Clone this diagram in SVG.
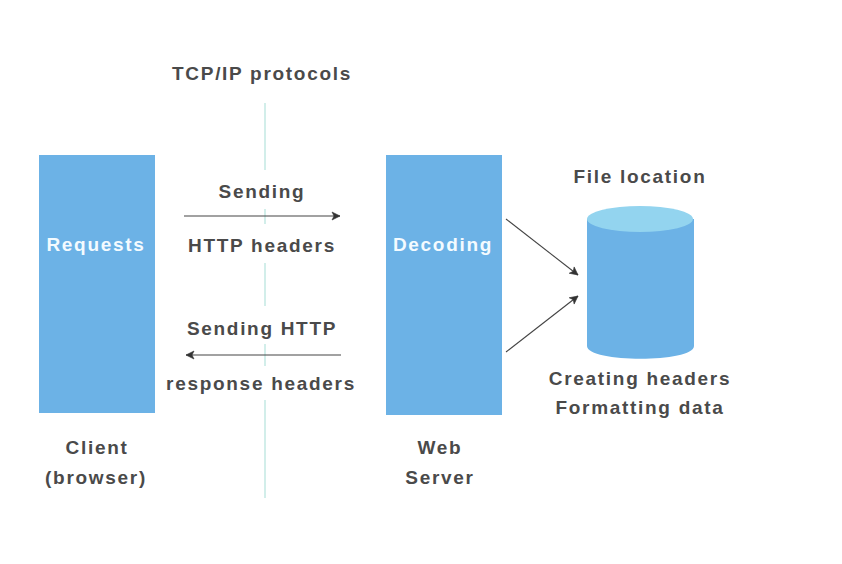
<svg xmlns="http://www.w3.org/2000/svg" width="842" height="564" viewBox="0 0 842 564">
<defs><marker id="a" markerWidth="10" markerHeight="10" refX="9" refY="5" orient="auto" markerUnits="userSpaceOnUse"><path d="M1 1L9 5L1 9L3 5Z" fill="#333" stroke="#333" stroke-width=".6"/></marker></defs>
<style>
text{font-family:"Liberation Sans",Arial,sans-serif;font-size:19px;font-weight:700;fill:#4a4a4a;text-anchor:middle;letter-spacing:1.7px}
.w{fill:#f4fbff}
.b{fill:#6cb2e6}
.c{fill:none;stroke:#444;stroke-width:1.1;marker-end:url(#a)}
</style>
<rect width="842" height="564" fill="#fff"/>
<g id="protocol-line"><path d="M265 103V170M265 209V224M265 263V306M265 344V366M265 400V498" stroke="#b5e3dc" stroke-width="1.2" fill="none"/></g>
<g id="client"><rect class="b" x="39" y="155" width="116" height="258"/><text class="w" x="96" y="251">Requests</text><text x="97" y="454">Client</text><text x="96" y="484">(browser)</text></g>
<g id="server"><rect class="b" x="386" y="155" width="116" height="260"/><text class="w" x="443" y="251">Decoding</text><text x="440" y="454">Web</text><text x="440" y="484">Server</text></g>
<g id="database"><path class="b" d="M587 219V346C587 363 694 363 694 346V219Z"/><ellipse cx="640" cy="219" rx="53" ry="13" fill="#93d4ef"/><text x="640" y="183">File location</text><text x="640" y="385">Creating headers</text><text x="640" y="414">Formatting data</text></g>
<g id="labels"><text x="262" y="80">TCP/IP protocols</text><text x="262" y="198">Sending</text><text x="262" y="252">HTTP headers</text><text x="262" y="335">Sending HTTP</text><text x="261" y="390">response headers</text></g>
<g id="connectors"><path class="c" d="M184 216H340"/><path class="c" d="M341 355H186"/><path class="c" d="M506 219L578 275"/><path class="c" d="M506 352L578 296"/></g>
</svg>
